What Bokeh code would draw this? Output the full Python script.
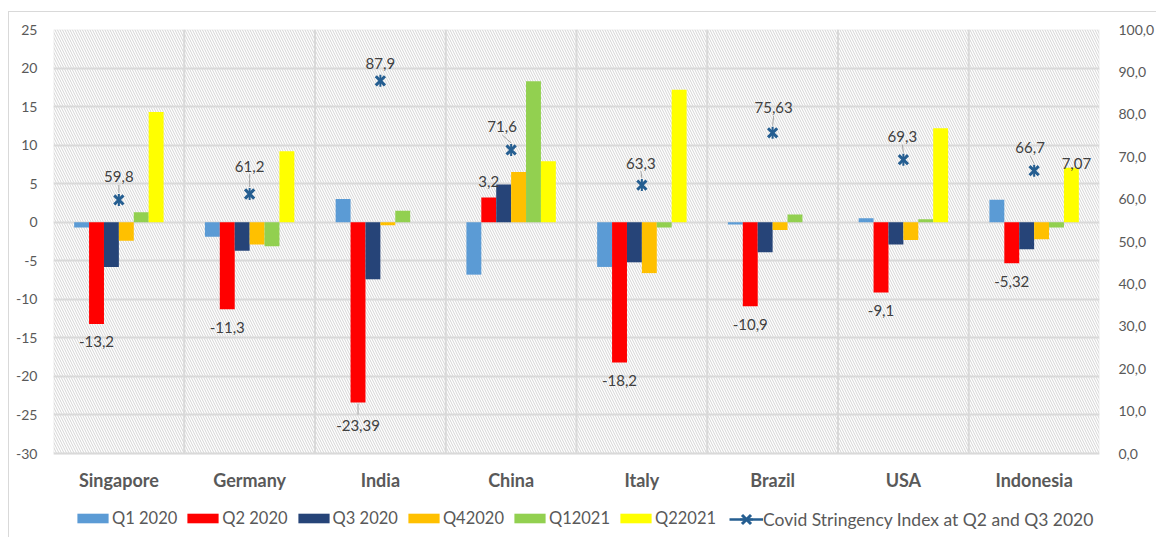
from bokeh.plotting import figure
from bokeh.models import (Range1d, LinearAxis, FixedTicker, Legend, LegendItem,
                          BoxAnnotation)
from bokeh.core.properties import value
from bokeh.embed import file_html
from bokeh.resources import INLINE
import math

countries = ["Singapore", "Germany", "India", "China", "Italy", "Brazil", "USA", "Indonesia"]
q1_2020 = [-0.7, -1.9, 3.0, -6.8, -5.8, -0.3, 0.5, 2.9]
q2_2020 = [-13.2, -11.3, -23.39, 3.2, -18.2, -10.9, -9.1, -5.32]
q3_2020 = [-5.8, -3.7, -7.4, 4.9, -5.2, -3.9, -2.9, -3.5]
q4_2020 = [-2.4, -2.9, -0.4, 6.5, -6.6, -1.0, -2.3, -2.2]
q1_2021 = [1.3, -3.1, 1.5, 18.3, -0.7, 1.0, 0.4, -0.7]
q2_2021 = [14.3, 9.2, 0.0, 7.9, 17.2, 0.0, 12.2, 7.07]
stringency = [59.8, 61.2, 87.9, 71.6, 63.3, 75.63, 69.3, 66.7]

series_names = ["Q1 2020", "Q2 2020", "Q3 2020", "Q42020", "Q12021", "Q22021"]
series_vals = [q1_2020, q2_2020, q3_2020, q4_2020, q1_2021, q2_2021]
series_colors = ["#5b9bd5", "#ff0000", "#264478", "#ffc000", "#92d050", "#ffff00"]
line_name = "Covid Stringency Index at Q2 and Q3 2020"
left_ticks = list(range(-30, 26, 5))
right_ticks = list(range(0, 101, 10))

FONT = "Lato"
GRID = "#d9d9d9"
TXT = "#595959"
LBL = "#404040"
MARK = "#255e91"

# figure sits inside an outer chart border (left/top) drawn by CSS
W, H = 1148, 526
ML, MR, MT, MB = 44, 52, 17, 0
BELOW = 85                      # px of frame used below the -30 line (labels, legend)
fw = W - ML - MR
fh = H - MT - MB
plot_h = fh - BELOW
n = len(countries)
ymin, ymax = left_ticks[0], left_ticks[-1]
rmin, rmax = right_ticks[0], right_ticks[-1]
px_x = fw / n
px_yl = plot_h / (ymax - ymin)
px_yr = plot_h / (rmax - rmin)

p = figure(width=W, height=H, output_backend="svg", toolbar_location=None,
           x_range=Range1d(0.5, n + 0.5),
           y_range=Range1d(ymin - BELOW / px_yl, ymax),
           x_axis_location=None,
           min_border_left=ML, min_border_right=MR, min_border_top=MT, min_border_bottom=MB,
           background_fill_color="white", border_fill_color="white",
           outline_line_color=None)
p.extra_y_ranges = {"right": Range1d(rmin - BELOW / px_yr, rmax)}
p.margin = (11, 0, 0, 8)
p.styles = {"border-left": "1px solid #d9d9d9", "border-top": "1px solid #d9d9d9"}

# hatched plot background with light border
p.add_layout(BoxAnnotation(bottom=ymin, fill_color="white", fill_alpha=1.0,
                           line_color=GRID, line_width=2,
                           hatch_pattern="left_diagonal_line", hatch_color="#d4d4d4",
                           hatch_scale=5, hatch_weight=1, level="image"))

# grids
p.ygrid.ticker = FixedTicker(ticks=left_ticks)
p.ygrid.grid_line_color = GRID
p.ygrid.grid_line_width = 2
p.xgrid.grid_line_color = None
sep = [i + 0.5 for i in range(1, n)]
p.segment(x0=sep, x1=sep, y0=[ymin] * len(sep), y1=[ymax] * len(sep),
          line_color=GRID, line_width=2, level="underlay")

# bars
bw = 0.114
renderers = []
for k, (vals, col) in enumerate(zip(series_vals, series_colors)):
    xs = [i + 1 + (k - 2.5) * bw for i in range(n)]
    r = p.vbar(x=xs, top=vals, bottom=0, width=bw, fill_color=col, line_color=None)
    renderers.append(r)

# stringency markers (X plus vertical stroke)
xc = [i + 1 for i in range(n)]
sr = p.scatter(x=xc, y=stringency, marker="x", size=13, line_color=MARK,
               line_width=3, y_range_name="right")
sr2 = p.scatter(x=xc, y=stringency, marker="dash", size=12, angle=math.pi / 2,
                line_color=MARK, line_width=2, y_range_name="right")
lr = p.line(x=xc[:1], y=stringency[:1], line_color=MARK, line_width=2.5,
            y_range_name="right")

# stringency labels (pixel offsets dx, dy-up) and leader lines
s_dx = [0, 0, 0, -9, -1, 1, -1, -4]
s_dy = [23, 28, 17, 23, 22, 25, 23, 23]
s_txt = [f"{v}".replace(".", ",") for v in stringency]
p.text(x=xc, y=stringency, text=s_txt, x_offset=s_dx, y_offset=[-d for d in s_dy],
       text_align="center", text_baseline="middle", text_font=value(FONT),
       text_font_size="15px", text_color=LBL, y_range_name="right")
lx0, ly0, lx1, ly1 = [], [], [], []
for i, v in enumerate(stringency):
    if s_dy[i] >= 20:
        lx0.append(xc[i] + s_dx[i] / px_x)
        ly0.append(v + (s_dy[i] - 8) / px_yr)
        lx1.append(xc[i])
        ly1.append(v + 7 / px_yr)
p.segment(x0=lx0, y0=ly0, x1=lx1, y1=ly1, line_color="#a6a6a6", line_width=1,
          y_range_name="right")

# Q2 2020 labels
xq2 = [i + 1 + (1 - 2.5) * bw for i in range(n)]
q2_txt = [f"{v}".replace(".", ",") for v in q2_2020]
q2_dy = [18 if v < 0 else -16 for v in q2_2020]
q2_dy[2] = 23
p.text(x=xq2, y=q2_2020, text=q2_txt, y_offset=q2_dy, text_align="center",
       text_baseline="middle", text_font=value(FONT), text_font_size="15px", text_color=LBL)
i_in = 2
p.segment(x0=[xq2[i_in]], y0=[q2_2020[i_in] - 1 / px_yl], x1=[xq2[i_in]],
          y1=[q2_2020[i_in] - 12 / px_yl], line_color="#a6a6a6", line_width=1)
# Indonesia Q2 2021 label
iq = 7
p.text(x=[iq + 1 + (5 - 2.5) * bw], y=[q2_2021[iq]], text=[f"{q2_2021[iq]}".replace(".", ",")],
       x_offset=5, y_offset=-4, text_align="center", text_baseline="middle",
       text_font=value(FONT), text_font_size="15px", text_color=LBL)

# category labels (below the plotting area)
p.text(x=xc, y=[ymin] * n, text=countries, y_offset=26, text_align="center",
       text_baseline="middle", text_font=value(FONT), text_font_style="bold",
       text_font_size="18px", text_color=TXT)

# value axes
ya = p.yaxis[0]
ya.ticker = FixedTicker(ticks=left_ticks)
ya.major_label_overrides = {t: str(t) for t in left_ticks}
ya.major_label_standoff = 10
ra = LinearAxis(y_range_name="right", ticker=FixedTicker(ticks=right_ticks),
                major_label_overrides={t: f"{t},0" for t in right_ticks},
                major_label_standoff=13)
p.add_layout(ra, "right")
for ax in (ya, ra):
    ax.axis_line_color = None
    ax.major_tick_line_color = None
    ax.minor_tick_line_color = None
    ax.major_label_text_font = FONT
    ax.major_label_text_font_size = "14px"
    ax.major_label_text_color = TXT

# legends: bars, then the stringency line+marker entry
common = dict(orientation="horizontal", padding=0, margin=0, border_line_alpha=0,
              background_fill_alpha=0, label_text_font=FONT, label_text_color=TXT)
items = [LegendItem(label=nm, renderers=[r]) for nm, r in zip(series_names, renderers)]
leg = Legend(items=items, location=(20, 10), glyph_width=39, glyph_height=12,
             label_standoff=0, spacing=6, label_text_font_size="16.5px", **common)
p.add_layout(leg)
leg2 = Legend(items=[LegendItem(label=line_name, renderers=[lr, sr, sr2])],
              location=(676, 3), glyph_width=34, glyph_height=32,
              label_standoff=0, spacing=0, label_text_font_size="17.5px", **common)
p.add_layout(leg2)

open("out.html", "w").write(file_html(p, INLINE))
